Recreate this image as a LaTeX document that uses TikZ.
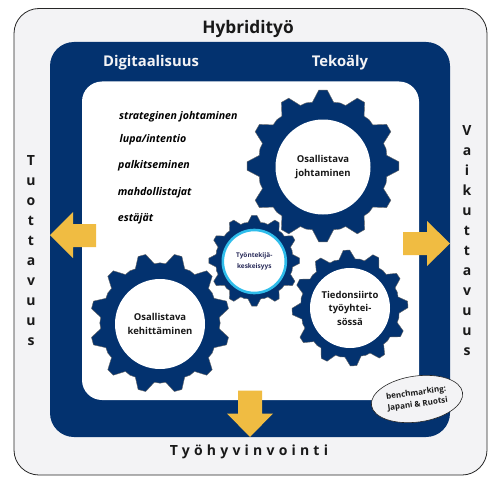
\documentclass[tikz,border=0pt]{standalone}
\usepackage{fontspec}
\setmainfont{Open Sans}
\usepackage{xcolor}
\usetikzlibrary{shapes.geometric,positioning}
\definecolor{hybnavy}{HTML}{03326F}
\definecolor{hybgrey}{HTML}{F3F3F5}
\definecolor{hybyellow}{HTML}{F0BC42}
\definecolor{hybcyan}{HTML}{2FBDEB}
\definecolor{hybink}{HTML}{2B2D5B}
\tikzset{
  outerbox/.style={draw=black!85, line width=0.8pt, fill=hybgrey, rounded corners=25pt},
  bluebox/.style={fill=hybnavy, rounded corners=24pt},
  whitebox/.style={fill=white, rounded corners=20pt},
  gearbody/.style={fill=hybnavy, draw=black!60, line width=0.4pt, line join=round},
  hub/.style={circle, fill=white, align=center, inner sep=0pt, font=\bfseries\fontsize{9.5}{13.5}\selectfont, text=black!90},
  yarrow/.style={fill=hybyellow},
  heading/.style={font=\bfseries\fontsize{14.8}{16}\selectfont, text=hybgrey},
  sideword/.style={align=center, font=\bfseries\fontsize{14}{20}\selectfont, text=black!90},
  item/.style={anchor=west, inner sep=0pt, font=\bfseries\itshape\fontsize{10.6}{12}\selectfont, text=black},
  notebubble/.style={ellipse, draw=black!85, line width=0.6pt, fill=hybgrey, inner sep=0pt, minimum width=92pt, minimum height=46pt, rotate=8, align=center, text=black!90, font=\bfseries\fontsize{8}{11.5}\selectfont},
}
\newcommand{\gearwheel}[4]{%
  \draw[gearbody, shift={(#1,#2)}] ({#4-9.5}:{0.85*#3 pt})
    \foreach \t in {0,30,...,330} {
      -- ({#4+\t-9.5}:{0.85*#3 pt}) -- ({#4+\t-3.2}:{#3 pt})
      -- ({#4+\t+3.2}:{#3 pt}) -- ({#4+\t+9.5}:{0.85*#3 pt})
      -- ({#4+\t+15}:{0.86*#3 pt})
    } -- cycle;}

\begin{document}
\begin{tikzpicture}[x=1pt,y=-1pt]
  \useasboundingbox (0,0) rectangle (500,500);
  \fill[white] (0,0) rectangle (500,500);
  % frames
  \draw[outerbox] (14,8.5) rectangle (487,475);
  \fill[bluebox] (50,42) rectangle (450,437);
  \fill[whitebox] (82,81.5) rectangle (419,400);
  \node[font=\bfseries\fontsize{17.3}{20}\selectfont, text=black!90] (hybrid) at (248,29.5) {Hybridityö};
  \node[heading] (digi) at (151,62.5) {Digitaalisuus};
  \node[heading] (teko) at (340,62.5) {Tekoäly};
  % side words
  \node[sideword] (tuotto) at (31,251) {T\\u\\o\\t\\t\\a\\v\\u\\u\\s};
  \node[sideword] (vaikutus) at (467,241) {V\\a\\i\\k\\u\\t\\t\\a\\v\\u\\u\\s};
  \node[font=\bfseries\fontsize{14}{16}\selectfont, text=black!90] (hyvinvointi) at (249,451.5)
    {\addfontfeature{LetterSpace=30}Työhyvinvointi};
  % items
  \node[item] (strategia) at (119,117) {strateginen johtaminen};
  \node[item] (lupa) at (119.5,140) {lupa/intentio};
  \node[item] (palkinto) at (118,166) {palkitseminen};
  \node[item] (mahdol) at (117.7,193) {mahdollistajat};
  \node[item] (estajat) at (117.7,219) {estäjät};
  % arrows
  \fill[yarrow] (50,235) -- (73,212) -- (73,224) -- (96,224) -- (96,247) -- (73,247) -- (73,258) -- cycle;
  \fill[yarrow] (450,243.5) -- (427,221) -- (427,232) -- (403,232) -- (403,255) -- (427,255) -- (427,266) -- cycle;
  \fill[yarrow] (250,437) -- (227,413.5) -- (238,413.5) -- (238,390.5) -- (262,390.5) -- (262,413.5) -- (273,413.5) -- cycle;
  % gears
  \gearwheel{323}{166}{76}{0}
  \gearwheel{160}{323}{70}{15}
  \gearwheel{350}{308}{58}{3.5}
  \gearwheel{254.3}{260.7}{45.5}{0}
  \node[hub, minimum size=95pt] (johtaminen) at (323,167) {Osallistava\\johtaminen};
  \node[hub, minimum size=90pt] (kehitys) at (160,324) {Osallistava\\kehittäminen};
  \node[hub, minimum size=80pt] (tiedonsiirto) at (350,308) {Tiedonsiirto\\työyhtei-\\sössä};
  \node[hub, draw=hybcyan, line width=2.6pt, minimum size=63pt, text=hybink,
    font=\bfseries\fontsize{6.5}{10.5}\selectfont] (keskeisyys) at (254.3,261.5) {Työntekijä-\\keskeisyys};
  % note
  \node[notebubble] (benchmark) at (417,399) {benchmarking:\\Japani \& Ruotsi};
\end{tikzpicture}
\end{document}
